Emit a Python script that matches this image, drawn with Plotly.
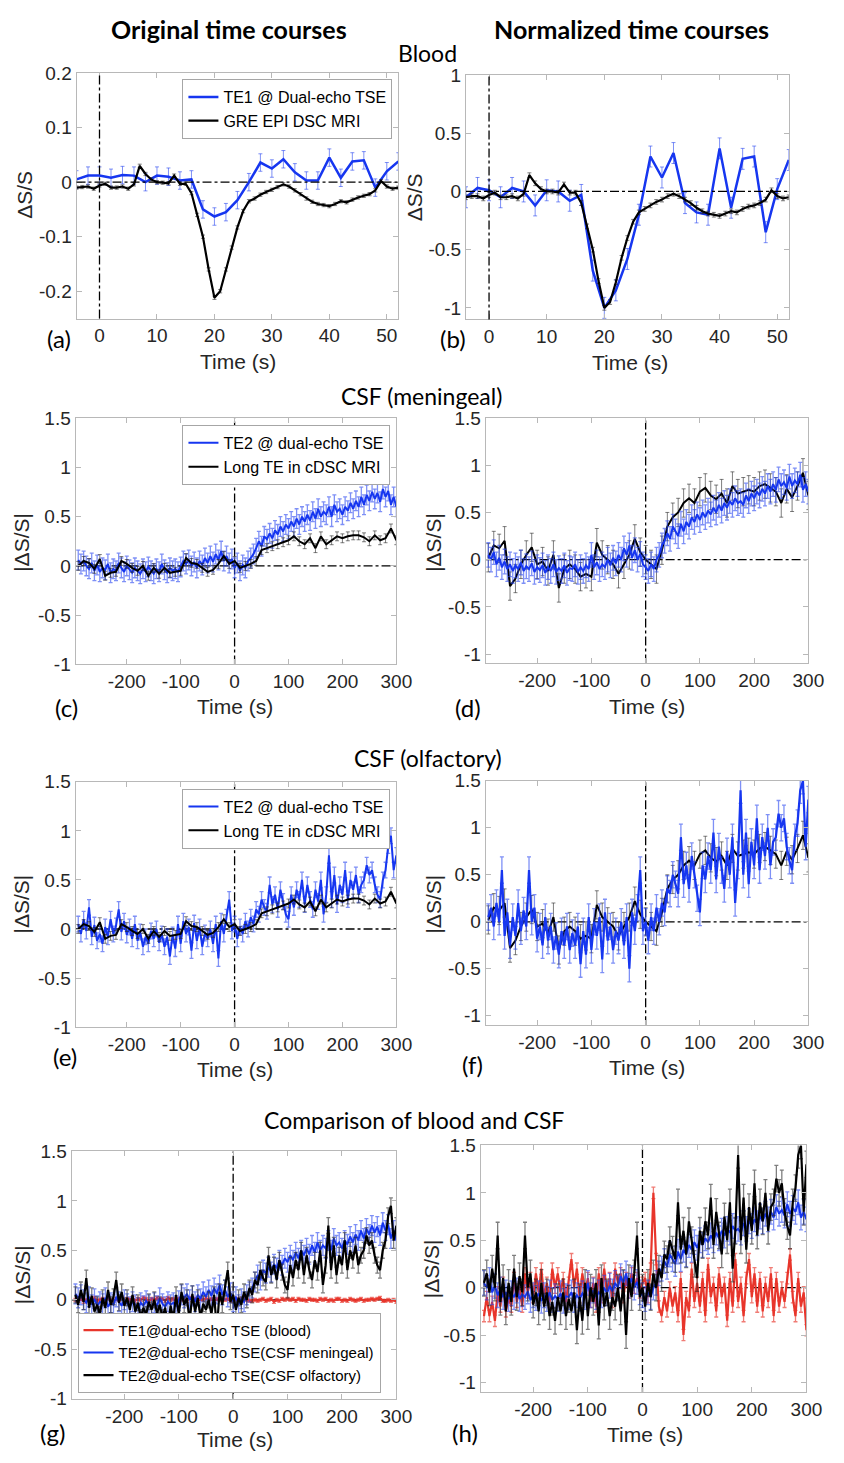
import plotly.graph_objects as go

W, H = 844, 1463

# ---------------- data ----------------
# Blood (panels a, b)
t_tse_blood = [-4, -2, 0, 2, 4, 6, 8, 10, 12, 14, 16, 18, 20, 22, 24, 26, 28, 30, 32, 34,
               36, 38, 40, 42, 44, 46, 48, 50, 52]
te1_blood_orig = [0.005, 0.012, 0.012, 0.008, 0.013, 0.012, 0.000, 0.012, 0.010, 0.003,
                  0.005, -0.050, -0.063, -0.055, -0.033, 0.000, 0.036, 0.025, 0.042, 0.018,
                  0.003, 0.003, 0.045, 0.008, 0.038, 0.040, -0.010, 0.020, 0.038]
te1_blood_norm = [-0.05, 0.03, 0.01, -0.05, 0.03, 0.00, -0.12, 0.01, 0.00, -0.08,
                  -0.03, -0.68, -1.00, -0.85, -0.58, -0.20, 0.30, 0.12, 0.33, -0.10,
                  -0.18, -0.20, 0.37, -0.14, 0.28, 0.30, -0.35, 0.02, 0.27]

t_gre = list(range(-4, 53))
gre_orig = [-0.010, -0.009, -0.008, -0.012, -0.006, -0.003, -0.010, -0.010, -0.008, -0.012,
            -0.004, 0.030, 0.015, 0.005, 0.000, -0.001, -0.002, 0.012, -0.003, -0.003,
            -0.020, -0.060, -0.100, -0.160, -0.212, -0.200, -0.160, -0.120, -0.083, -0.053,
            -0.035, -0.030, -0.023, -0.018, -0.014, -0.009, -0.004, -0.008, -0.015, -0.022,
            -0.030, -0.036, -0.040, -0.042, -0.044, -0.040, -0.035, -0.037, -0.032, -0.028,
            -0.025, -0.022, -0.015, 0.002, -0.008, -0.012, -0.010]
gre_norm = [-0.05, -0.04, -0.04, -0.06, -0.03, -0.01, -0.05, -0.05, -0.04, -0.06,
            -0.02, 0.14, 0.07, 0.02, 0.00, 0.00, -0.01, 0.06, -0.01, -0.01,
            -0.10, -0.30, -0.50, -0.77, -1.00, -0.95, -0.78, -0.57, -0.40, -0.26,
            -0.18, -0.15, -0.12, -0.09, -0.07, -0.04, -0.02, -0.04, -0.07, -0.10,
            -0.14, -0.17, -0.19, -0.20, -0.21, -0.19, -0.17, -0.18, -0.15, -0.13,
            -0.12, -0.10, -0.07, 0.01, -0.04, -0.06, -0.05]

# CSF time axis (TSE, 5 s) and long-TE cDSC (10 s)
t_tse = list(range(-290, 301, 5))
t_long = list(range(-290, 301, 10))

te2_men_orig = [0.06, 0.02, 0.05, 0.00, -0.03, 0.03, -0.05, 0.01, -0.06, -0.02,
                -0.04, 0.02, -0.07, -0.03, -0.05, 0.03, -0.02, -0.06, 0.00, -0.04,
                -0.07, -0.02, -0.05, -0.08, -0.03, -0.06, -0.01, -0.05, -0.08, -0.03,
                -0.06, 0.02, -0.04, -0.07, -0.02, -0.05, -0.03, -0.06, -0.01, 0.05,
                0.02, 0.06, 0.00, 0.04, -0.02, 0.05, 0.01, 0.08, 0.03, 0.10,
                0.04, 0.12, 0.06, 0.15, 0.05, 0.10, 0.03, 0.07, -0.02, 0.03,
                -0.05, 0.01, -0.02, 0.05, 0.08, 0.12, 0.18, 0.25, 0.20, 0.30,
                0.27, 0.33, 0.28, 0.36, 0.32, 0.40, 0.35, 0.42, 0.38, 0.45,
                0.40, 0.48, 0.42, 0.50, 0.45, 0.52, 0.46, 0.55, 0.48, 0.58,
                0.50, 0.55, 0.52, 0.60, 0.50, 0.62, 0.55, 0.58, 0.52, 0.60,
                0.56, 0.64, 0.58, 0.66, 0.60, 0.70, 0.62, 0.72, 0.66, 0.75,
                0.68, 0.74, 0.65, 0.78, 0.70, 0.76, 0.62, 0.70, 0.60]

te2_olf_orig = [0.05, -0.05, 0.10, -0.02, 0.22, -0.08, 0.04, -0.12, -0.05, -0.15,
                0.02, -0.08, 0.10, -0.05, 0.03, 0.20, -0.03, 0.08, -0.06, 0.02,
                -0.10, 0.05, -0.12, -0.03, -0.18, -0.08, -0.15, -0.02, -0.10, 0.00,
                -0.14, -0.05, -0.18, -0.08, -0.28, -0.06, -0.20, 0.05, -0.15, 0.08,
                -0.05, 0.02, -0.22, 0.06, -0.12, 0.02, -0.18, -0.04, -0.10, 0.00,
                -0.15, 0.05, -0.30, 0.08, -0.05, 0.12, 0.30, -0.02, 0.05, -0.10,
                0.02, -0.05, 0.08, 0.00, 0.12, 0.05, 0.20, 0.15, 0.30, 0.22,
                0.18, 0.45, 0.25, 0.35, 0.20, 0.40, 0.28, 0.15, 0.10, 0.35,
                0.22, 0.40, 0.30, 0.50, 0.25, 0.45, 0.30, 0.20, 0.40, 0.28,
                0.50, 0.15, 0.35, 0.75, 0.30, 0.55, 0.25, 0.45, 0.35, 0.60,
                0.30, 0.50, 0.40, 0.55, 0.35, 0.45, 0.50, 0.65, 0.55, 0.60,
                0.45, 0.35, 0.30, 0.50, 0.60, 0.85, 0.95, 0.60, 0.75]

te2_men_norm = [0.05, 0.00, 0.08, -0.05, 0.02, -0.08, -0.02, -0.10, -0.05, -0.12,
                -0.06, -0.10, -0.03, -0.12, -0.07, -0.10, -0.04, -0.13, -0.08, -0.11,
                -0.06, -0.14, -0.08, -0.12, -0.05, -0.13, -0.09, -0.12, -0.06, -0.14,
                -0.09, -0.10, -0.05, -0.13, -0.08, -0.12, -0.06, -0.10, 0.05, -0.08,
                -0.03, -0.10, -0.05, -0.08, 0.00, -0.06, 0.02, -0.04, 0.05, 0.00,
                0.12, 0.05, 0.15, 0.02, 0.10, 0.00, 0.06, -0.05, -0.08, -0.12,
                -0.05, -0.10, 0.00, 0.05, 0.15, 0.20, 0.28, 0.22, 0.35, 0.30,
                0.25, 0.38, 0.30, 0.40, 0.35, 0.45, 0.40, 0.48, 0.42, 0.50,
                0.45, 0.52, 0.48, 0.55, 0.50, 0.58, 0.52, 0.60, 0.55, 0.62,
                0.58, 0.65, 0.60, 0.62, 0.58, 0.68, 0.62, 0.70, 0.65, 0.72,
                0.68, 0.75, 0.70, 0.78, 0.72, 0.80, 0.74, 0.85, 0.78, 0.82,
                0.76, 0.88, 0.78, 0.84, 0.80, 0.90, 0.74, 0.80, 0.72]

te2_olf_norm = [0.05, 0.15, -0.05, 0.20, 0.00, 0.55, -0.15, 0.10, -0.25, 0.05,
                -0.15, 0.20, -0.10, 0.12, -0.05, 0.55, 0.00, 0.15, -0.18, -0.05,
                -0.25, 0.05, -0.20, -0.05, -0.30, -0.15, -0.35, -0.10, -0.25, -0.05,
                -0.30, -0.12, -0.25, -0.05, -0.45, -0.10, -0.35, 0.05, -0.30, 0.00,
                -0.15, 0.05, -0.40, 0.10, -0.20, -0.05, -0.30, -0.10, -0.20, 0.00,
                -0.25, 0.05, -0.50, 0.10, -0.10, 0.15, 0.55, -0.10, 0.00, -0.20,
                0.05, -0.10, 0.15, 0.00, 0.20, 0.10, 0.35, 0.30, 0.50, 0.40,
                0.30, 0.90, 0.40, 0.60, 0.35, 0.70, 0.50, 0.25, 0.10, 0.60,
                0.45, 0.70, 0.55, 0.95, 0.45, 0.80, 0.55, 0.35, 0.75, 0.50,
                0.90, 0.20, 0.60, 1.40, 0.50, 0.95, 0.40, 0.85, 0.60, 1.10,
                0.55, 0.90, 0.70, 1.00, 0.60, 0.85, 0.90, 1.15, 1.00, 1.10,
                0.80, 0.65, 0.55, 0.90, 1.05, 1.40, 1.50, 0.80, 1.30]

te1_blood_csf_orig = [0.00, -0.01, 0.01, -0.02, 0.00, 0.01, -0.01, 0.02, -0.01, 0.00,
                      0.01, -0.01, 0.02, 0.00, -0.01, 0.01, 0.00, 0.02, -0.01, 0.01,
                      0.00, 0.02, -0.01, 0.01, 0.00, 0.02, 0.01, -0.01, 0.01, 0.00,
                      0.02, 0.00, 0.01, -0.01, 0.02, 0.00, 0.01, -0.01, 0.01, 0.00,
                      0.01, -0.01, 0.02, 0.00, 0.01, -0.01, 0.01, 0.00, 0.02, 0.00,
                      0.01, -0.01, 0.01, 0.00, 0.01, 0.00, 0.01, -0.01, 0.00, 0.01,
                      -0.01, 0.01, 0.03, 0.00, -0.01, -0.01, 0.00, -0.01, 0.00, 0.01,
                      -0.01, 0.00, 0.01, -0.02, 0.00, -0.01, 0.01, 0.00, 0.01, 0.00,
                      0.01, -0.01, 0.01, 0.00, 0.00, -0.01, 0.01, 0.00, 0.00, -0.01,
                      0.01, 0.00, 0.01, -0.01, 0.00, -0.01, 0.01, 0.01, -0.01, 0.00,
                      -0.01, 0.01, 0.00, -0.01, 0.00, 0.01, -0.01, 0.00, 0.00, 0.01,
                      0.00, 0.01, 0.02, -0.01, -0.01, 0.00, -0.01, 0.00, -0.02]

te1_blood_csf_norm = [-0.30, -0.10, -0.30, -0.15, -0.35, -0.05, -0.20, 0.05, -0.25, -0.10,
                      -0.20, 0.10, -0.15, 0.00, -0.20, 0.15, -0.05, 0.10, -0.10, 0.15,
                      -0.05, 0.20, -0.10, 0.05, -0.15, 0.20, 0.00, 0.15, -0.05, 0.10,
                      -0.15, 0.05, 0.30, 0.00, 0.20, -0.10, 0.15, -0.05, 0.10, -0.15,
                      0.05, -0.20, 0.15, -0.10, 0.20, -0.05, 0.10, -0.15, 0.20, 0.05,
                      0.15, -0.10, 0.10, -0.05, 0.15, 0.00, 0.10, -0.05, 0.05, 0.10,
                      -0.10, 0.20, 1.00, 0.30, -0.20, -0.30, -0.10, -0.25, 0.00, -0.20,
                      -0.05, -0.30, 0.10, -0.50, -0.10, -0.25, 0.20, -0.15, 0.05, -0.20,
                      0.10, -0.30, 0.25, -0.10, 0.05, -0.25, 0.15, -0.10, 0.05, -0.35,
                      0.10, -0.20, 0.30, -0.15, 0.05, -0.30, 0.10, 0.30, -0.10, 0.15,
                      -0.20, 0.10, -0.25, 0.05, -0.15, 0.15, -0.30, 0.10, -0.20, 0.00,
                      -0.15, 0.10, 0.35, -0.10, -0.30, 0.10, -0.20, -0.05, -0.45]

long_te_orig = [0.00, 0.05, 0.03, -0.03, 0.07, -0.10, -0.07, -0.06, 0.05, 0.02,
                -0.02, -0.05, 0.00, -0.10, -0.02, -0.08, -0.02, -0.07, -0.06, -0.05,
                0.08, 0.03, 0.02, -0.02, -0.06, -0.04, 0.02, 0.10, 0.02, 0.05,
                -0.02, 0.00, 0.02, 0.05, 0.16, 0.18, 0.20, 0.22, 0.24, 0.26,
                0.30, 0.25, 0.22, 0.28, 0.18, 0.30, 0.22, 0.26, 0.30, 0.28,
                0.30, 0.31, 0.31, 0.29, 0.25, 0.31, 0.26, 0.28, 0.38, 0.26]

long_te_norm = [0.02, 0.15, 0.12, 0.20, -0.28, -0.20, -0.05, 0.05, 0.13, -0.05,
                -0.02, -0.12, 0.05, -0.30, -0.10, -0.05, -0.10, -0.18, -0.15, -0.18,
                0.18, 0.05, 0.00, -0.05, -0.15, -0.05, 0.05, 0.22, 0.08, 0.00,
                -0.05, -0.10, 0.10, 0.35, 0.45, 0.50, 0.60, 0.65, 0.60, 0.72,
                0.76, 0.68, 0.64, 0.70, 0.60, 0.78, 0.70, 0.72, 0.74, 0.72,
                0.78, 0.80, 0.76, 0.72, 0.60, 0.75, 0.66, 0.78, 0.92, 0.68]

# error-bar half widths (estimated)
err_te1_blood_orig = 0.016
err_te1_blood_norm = 0.09
err_gre_orig = 0.003
err_gre_norm = 0.02
err_men_orig = 0.10
err_olf_orig = 0.08
err_long_orig = 0.045
err_men_norm = 0.13
err_olf_norm = 0.14
err_long_norm = 0.15
err_red_orig = 0.015
err_red_norm = 0.06

# tick labels
xt_blood = [0, 10, 20, 30, 40, 50]
yt_blood_orig = [-0.2, -0.1, 0, 0.1, 0.2]
yt_blood_orig_txt = ["-0.2", "-0.1", "0", "0.1", "0.2"]
yt_blood_norm = [-1, -0.5, 0, 0.5, 1]
yt_blood_norm_txt = ["-1", "-0.5", "0", "0.5", "1"]
xt_csf = [-200, -100, 0, 100, 200, 300]
xt_csf_txt = ["-200", "-100", "0", "100", "200", "300"]
yt_csf = [-1, -0.5, 0, 0.5, 1, 1.5]
yt_csf_txt = ["-1", "-0.5", "0", "0.5", "1", "1.5"]

# ---------------- styling ----------------
BLUE = "#1636f0"
BLUE_ERR = "rgba(40,70,240,0.6)"
BLACK = "#000000"
BLACK_ERR = "rgba(40,40,40,0.6)"
RED = "#e8352b"
RED_ERR = "rgba(232,53,43,0.65)"
FRAME = "#b8b8b8"
TXT = "#262626"
SANS = "Liberation Sans, Arial, Helvetica, sans-serif"
TITLE_FONT = "Lato, Open Sans, sans-serif"

def fx(px):
    return px / W

def fy(py):
    return 1 - py / H

# panel geometry in pixels: (left, right, top, bottom)
panels = {
    1: dict(box=(78, 406, 64, 313), xr=[-4, 52], yr=[-0.25, 0.2], xt=xt_blood,
            xtt=[str(v) for v in xt_blood], yt=yt_blood_orig, ytt=yt_blood_orig_txt),
    2: dict(box=(475, 804, 66, 314), xr=[-4, 52], yr=[-1.1, 1], xt=xt_blood,
            xtt=[str(v) for v in xt_blood], yt=yt_blood_norm, ytt=yt_blood_norm_txt),
    3: dict(box=(77, 404, 414, 664), xr=[-295, 300], yr=[-1, 1.5], xt=xt_csf,
            xtt=xt_csf_txt, yt=yt_csf, ytt=yt_csf_txt),
    4: dict(box=(495, 824, 414, 663), xr=[-295, 300], yr=[-1.1, 1.5], xt=xt_csf,
            xtt=xt_csf_txt, yt=yt_csf, ytt=yt_csf_txt),
    5: dict(box=(77, 404, 783, 1032), xr=[-295, 300], yr=[-1, 1.5], xt=xt_csf,
            xtt=xt_csf_txt, yt=yt_csf, ytt=yt_csf_txt),
    6: dict(box=(495, 824, 782, 1030), xr=[-295, 300], yr=[-1.1, 1.5], xt=xt_csf,
            xtt=xt_csf_txt, yt=yt_csf, ytt=yt_csf_txt),
    7: dict(box=(73, 404, 1158, 1409), xr=[-297, 300], yr=[-1, 1.5], xt=xt_csf,
            xtt=xt_csf_txt, yt=yt_csf, ytt=yt_csf_txt),
    8: dict(box=(490, 822, 1152, 1402), xr=[-296, 300], yr=[-1.1, 1.5], xt=xt_csf,
            xtt=xt_csf_txt, yt=yt_csf, ytt=yt_csf_txt),
}

def ax(i, kind):
    return kind if i == 1 else f"{kind}{i}"

fig = go.Figure()

def add(i, x, y, err, color, ecolor, width, name=None, legend=None, ethick=1.0, ewidth=2):
    fig.add_trace(go.Scatter(
        x=x, y=y, mode="lines", name=name,
        line=dict(color=color, width=width),
        error_y=dict(type="constant", value=err, color=ecolor, thickness=ethick, width=ewidth),
        xaxis=ax(i, "x"), yaxis=ax(i, "y"),
        showlegend=name is not None, legend=legend,
    ))

# (a)
add(1, t_tse_blood, te1_blood_orig, err_te1_blood_orig, BLUE, BLUE_ERR, 2.5,
    "TE1 @ Dual-echo TSE", "legend")
add(1, t_gre, gre_orig, err_gre_orig, BLACK, BLACK_ERR, 2.2, "GRE EPI DSC MRI", "legend")
# (b)
add(2, t_tse_blood, te1_blood_norm, err_te1_blood_norm, BLUE, BLUE_ERR, 2.5)
add(2, t_gre, gre_norm, err_gre_norm, BLACK, BLACK_ERR, 2.2)
# (c)
add(3, t_tse, te2_men_orig, err_men_orig, BLUE, BLUE_ERR, 2.0, "TE2 @ dual-echo TSE", "legend2", 1.3)
add(3, t_long, long_te_orig, err_long_orig, BLACK, BLACK_ERR, 2.0, "Long TE in cDSC MRI", "legend2")
# (d)
add(4, t_long, long_te_norm, err_long_norm, BLACK, BLACK_ERR, 2.0)
add(4, t_tse, te2_men_norm, err_men_norm, BLUE, BLUE_ERR, 2.0, ethick=1.3)
# (e)
add(5, t_tse, te2_olf_orig, err_olf_orig, BLUE, BLUE_ERR, 2.0, "TE2 @ dual-echo TSE", "legend3", 1.3)
add(5, t_long, long_te_orig, err_long_orig, BLACK, BLACK_ERR, 2.0, "Long TE in cDSC MRI", "legend3")
# (f)
add(6, t_long, long_te_norm, err_long_norm, BLACK, BLACK_ERR, 2.0)
add(6, t_tse, te2_olf_norm, err_olf_norm, BLUE, BLUE_ERR, 2.2, ethick=1.3)
# (g)
add(7, t_tse, te1_blood_csf_orig, err_red_orig, RED, RED_ERR, 2.2,
    "TE1@dual-echo TSE (blood)", "legend4", 1.3)
add(7, t_tse, te2_men_orig, err_men_orig, BLUE, BLUE_ERR, 2.0,
    "TE2@dual-echo TSE(CSF meningeal)", "legend4", 1.3)
add(7, t_tse, te2_olf_orig, err_olf_orig, BLACK, BLACK_ERR, 2.2,
    "TE2@dual-echo TSE(CSF olfactory)", "legend4", 1.3)
# (h)
add(8, t_tse, te1_blood_csf_norm, err_red_norm, RED, RED_ERR, 2.2, ethick=1.3)
add(8, t_tse, te2_men_norm, err_men_norm, BLUE, BLUE_ERR, 2.0, ethick=1.3)
add(8, t_tse, te2_olf_norm, err_olf_norm, BLACK, BLACK_ERR, 2.2, ethick=1.3)

layout = dict(
    width=W, height=H, autosize=False,
    margin=dict(l=0, r=0, t=0, b=0),
    paper_bgcolor="white", plot_bgcolor="white",
    font=dict(family=SANS, color=TXT),
    shapes=[], annotations=[],
)

for i, p in panels.items():
    l, r, t, b = p["box"]
    common = dict(showline=True, linecolor=FRAME, linewidth=1, mirror="ticks",
                  ticks="inside", ticklen=5, tickcolor=FRAME, tickwidth=1,
                  showgrid=False, zeroline=False, fixedrange=True,
                  tickfont=dict(family=SANS, size=19, color=TXT))
    layout["xaxis" if i == 1 else f"xaxis{i}"] = dict(
        domain=[fx(l), fx(r)], range=p["xr"], anchor=ax(i, "y"),
        tickmode="array", tickvals=p["xt"], ticktext=p["xtt"], **common)
    layout["yaxis" if i == 1 else f"yaxis{i}"] = dict(
        domain=[fy(b), fy(t)], range=p["yr"], anchor=ax(i, "x"),
        tickmode="array", tickvals=p["yt"], ticktext=p["ytt"], **common)
    lay = "above" if i <= 2 else "below"
    layout["shapes"].append(dict(type="line", xref=ax(i, "x"), yref=ax(i, "y") + " domain",
                                 x0=0, x1=0, y0=0, y1=1, layer=lay,
                                 line=dict(color="black", width=1.3, dash="dashdot")))
    layout["shapes"].append(dict(type="line", xref=ax(i, "x") + " domain", yref=ax(i, "y"),
                                 x0=0, x1=1, y0=0, y1=0, layer=lay,
                                 line=dict(color="black", width=1.3, dash="dashdot")))

def ann(text, px, py, size, family=SANS, angle=0, color=TXT):
    layout["annotations"].append(dict(
        text=text, x=fx(px), y=fy(py), xref="paper", yref="paper",
        xanchor="center", yanchor="middle", showarrow=False, textangle=angle,
        font=dict(family=family, size=size, color=color)))

# column and section titles
ann("<b>Original time courses</b>", 233, 19, 25, TITLE_FONT, color="black")
ann("<b>Normalized time courses</b>", 644, 19, 25, TITLE_FONT, color="black")
ann("Blood", 436, 44, 23, TITLE_FONT, color="black")
ann("CSF (meningeal)", 430, 392, 23, TITLE_FONT, color="black")
ann("CSF (olfactory)", 436, 759, 23, TITLE_FONT, color="black")
ann("Comparison of blood and CSF", 422, 1126, 23, TITLE_FONT, color="black")

# panel letters
for lab, px, py in [("(a)", 60, 333), ("(b)", 462, 333), ("(c)", 68, 708), ("(d)", 477, 708),
                    ("(e)", 66, 1062), ("(f)", 482, 1070), ("(g)", 54, 1443), ("(h)", 474, 1443)]:
    ann(lab, px, py, 24, TITLE_FONT, color="black")

# x-axis titles
for px, py in [(243, 357), (642, 358), (240, 707), (660, 707), (240, 1075), (660, 1073),
               (240, 1450), (657, 1445)]:
    ann("Time (s)", px, py, 21)

# y-axis titles
for text, px, py in [("ΔS/S", 25, 188), ("ΔS/S", 422, 190),
                     ("|ΔS/S|", 22, 540), ("|ΔS/S|", 442, 540),
                     ("|ΔS/S|", 22, 907), ("|ΔS/S|", 442, 907),
                     ("|ΔS/S|", 23, 1283), ("|ΔS/S|", 440, 1277)]:
    ann(text, px, py, 21, angle=-90)

def leg(size):
    return dict(bgcolor="white", bordercolor="#a6a6a6", borderwidth=1,
                font=dict(family=SANS, size=size, color="black"),
                itemwidth=30, tracegroupgap=0, xref="paper", yref="paper")

layout["legend"] = dict(x=fx(400), y=fy(70), xanchor="right", yanchor="top", **leg(16))
layout["legend2"] = dict(x=fx(398), y=fy(421), xanchor="right", yanchor="top", **leg(16))
layout["legend3"] = dict(x=fx(398), y=fy(790), xanchor="right", yanchor="top", **leg(16))
layout["legend4"] = dict(x=fx(79), y=fy(1403), xanchor="left", yanchor="bottom", **leg(15))

fig.update_layout(**layout)
fig.write_html("out.html")
